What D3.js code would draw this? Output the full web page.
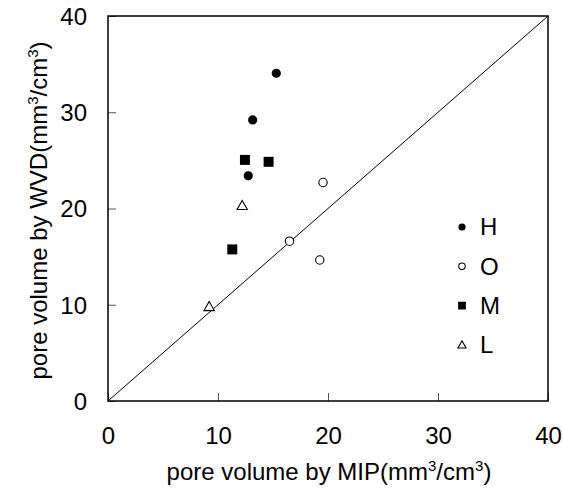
<!DOCTYPE html>
<html><head><meta charset="utf-8">
<script src="https://cdn.jsdelivr.net/npm/d3@7"></script>
<style>body{margin:0;background:#fff}svg{display:block}text{font-family:"Liberation Sans",Arial,sans-serif;fill:#000}</style>
</head><body><div id="chart"></div>
<script>
const seriesNames = ["H", "O", "M", "L"];
const H = [[15.3, 34.05], [13.15, 29.2], [12.75, 23.4]];
const O = [[19.55, 22.7], [16.5, 16.6], [19.25, 14.65]];
const M = [[12.45, 25.05], [14.6, 24.85], [11.3, 15.75]];
const L = [[12.2, 20.3], [9.2, 9.8]];
const xTicks = [0, 10, 20, 30, 40];
const yTicks = [0, 10, 20, 30, 40];
const diagonal = [[0, 0], [40, 40]];

const W = 563, Hh = 504;
const margin = {left: 108, top: 16, right: 15, bottom: 103};
const svg = d3.select("#chart").append("svg").attr("width", W).attr("height", Hh);
const x = d3.scaleLinear().domain([0, 40]).range([margin.left, W - margin.right]);
const y = d3.scaleLinear().domain([0, 40]).range([Hh - margin.bottom, margin.top]);

const FS = 24;
// axes (inner ticks)
const xAxis = d3.axisBottom(x).tickValues(xTicks).tickSize(-8).tickPadding(26).tickFormat(d3.format("d"));
const yAxis = d3.axisLeft(y).tickValues(yTicks).tickSize(-8).tickPadding(21).tickFormat(d3.format("d"));
const gx = svg.append("g").attr("transform", `translate(0,${y(0)})`).call(xAxis);
const gy = svg.append("g").attr("transform", `translate(${x(0)},0)`).call(yAxis);
[gx, gy].forEach(g => {
  g.select(".domain").remove();
  g.selectAll(".tick line").attr("stroke", "#555").attr("stroke-width", 1);
  g.selectAll(".tick text").style("font-size", FS + "px").attr("fill", "#000");
});
gy.selectAll(".tick text").attr("dy", "0.35em");
gx.selectAll(".tick text").attr("dy", "0.35em").attr("y", 35);

// frame
svg.append("rect").attr("x", x(0)).attr("y", y(40)).attr("width", x(40) - x(0)).attr("height", y(0) - y(40))
  .attr("fill", "none").attr("stroke", "#000").attr("stroke-width", 1.5);

// diagonal
svg.append("line").attr("x1", x(diagonal[0][0])).attr("y1", y(diagonal[0][1]))
  .attr("x2", x(diagonal[1][0])).attr("y2", y(diagonal[1][1])).attr("stroke", "#000").attr("stroke-width", 1);

function marker(g, type, cx, cy, s) {
  if (type === "H") g.append("circle").attr("cx", cx).attr("cy", cy).attr("r", 4.6 * s).attr("fill", "#000");
  else if (type === "O") g.append("circle").attr("cx", cx).attr("cy", cy).attr("r", 4.2 * s).attr("fill", "#fff").attr("stroke", "#000").attr("stroke-width", 1.1);
  else if (type === "M") g.append("rect").attr("x", cx - 5 * s).attr("y", cy - 5 * s).attr("width", 10 * s).attr("height", 10 * s).attr("fill", "#000");
  else if (type === "L") {
    const a = 5.2 * s;
    g.append("path").attr("d", `M${cx},${cy - a}L${cx + a},${cy + a * 0.75}L${cx - a},${cy + a * 0.75}Z`)
      .attr("fill", "#fff").attr("stroke", "#000").attr("stroke-width", 1.1);
  }
}
const data = {H, O, M, L};
const pts = svg.append("g");
seriesNames.forEach(n => data[n].forEach(d => marker(pts, n, x(d[0]), y(d[1]), 1)));

// legend
const leg = svg.append("g");
seriesNames.forEach((n, i) => {
  const cy = 227 + i * 39.3;
  marker(leg, n, 462, cy, 0.78);
  leg.append("text").attr("x", 480).attr("y", cy).attr("dy", "0.35em").style("font-size", FS + "px").text(n);
});

// axis titles
function title(t, label) {
  t.append("tspan").text("pore volume by " + label + "(mm");
  t.append("tspan").attr("dy", -9).style("font-size", "15px").text("3");
  t.append("tspan").attr("dy", 9).text("/cm");
  t.append("tspan").attr("dy", -9).style("font-size", "15px").text("3");
  t.append("tspan").attr("dy", 9).text(")");
}
const xt = svg.append("text").attr("x", (x(0) + x(40)) / 2 + 1).attr("y", 480).attr("text-anchor", "middle").style("font-size", FS + "px");
title(xt, "MIP");
const yt = svg.append("text").attr("transform", `translate(47,${(y(0) + y(40)) / 2 + 2}) rotate(-90)`).attr("text-anchor", "middle").style("font-size", FS + "px");
title(yt, "WVD");
</script></body></html>
